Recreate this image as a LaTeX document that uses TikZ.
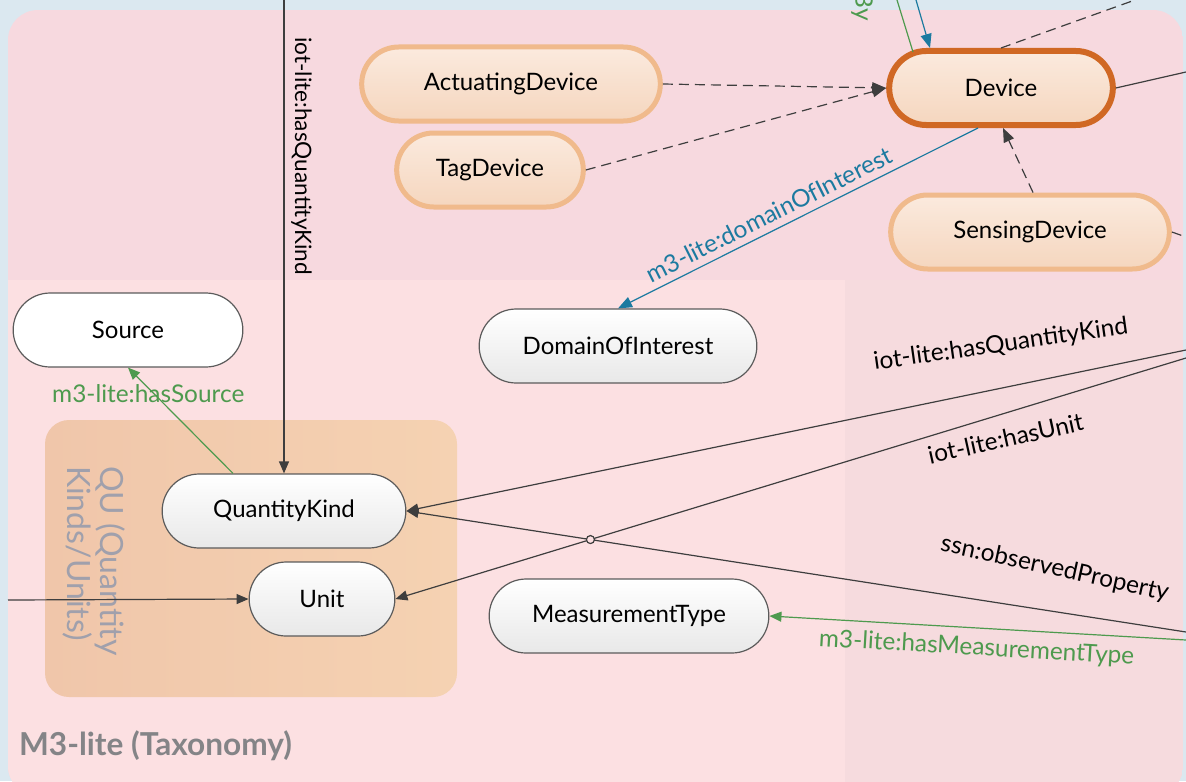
\documentclass[tikz,border=0pt]{standalone}
\usepackage{fontspec}
\setmainfont{Lato}
\usetikzlibrary{shapes.misc, arrows.meta, calc, intersections}
\definecolor{bgblue}{RGB}{219,232,240}
\definecolor{toppink}{RGB}{247,217,223}
\definecolor{lowpink}{RGB}{252,224,226}
\definecolor{rightpink}{RGB}{246,219,222}
\definecolor{quleft}{RGB}{240,198,170}
\definecolor{quright}{RGB}{245,210,178}
\definecolor{qugrey}{RGB}{160,160,172}
\definecolor{peachline}{RGB}{240,186,140}
\definecolor{peachtop}{RGB}{251,234,222}
\definecolor{peachbot}{RGB}{245,214,190}
\definecolor{devorange}{RGB}{208,104,36}
\definecolor{edgegrey}{RGB}{62,62,62}
\definecolor{m3green}{RGB}{78,154,78}
\definecolor{m3blue}{RGB}{28,122,160}
\definecolor{labelgrey}{RGB}{132,132,135}

\tikzset{
  concept/.style={rounded rectangle, draw=edgegrey!85, line width=0.6pt, top color=white, bottom color=black!9,
    minimum height=37pt, font=\fontsize{12}{14}\selectfont},
  device/.style={concept, draw=peachline, line width=2.5pt, top color=peachtop, bottom color=peachbot},
  rel/.style={draw=edgegrey, line width=0.6pt, -{Triangle[length=6pt,width=5pt]}},
  relgreen/.style={rel, draw=m3green, text=m3green},
  relblue/.style={rel, draw=m3blue, text=m3blue, -{Triangle[length=7pt,width=5.5pt]}},
  isa/.style={rel, dash pattern=on 5pt off 3pt, -{Triangle[length=7pt,width=5.5pt]}},
  dashline/.style={draw=edgegrey, line width=0.6pt, dash pattern=on 5pt off 3pt},
  plainline/.style={draw=edgegrey, line width=0.6pt},
  edgelabel/.style={font=\fontsize{12.2}{14}\selectfont}
}

\begin{document}
\begin{tikzpicture}[x=0.5pt, y=-0.5pt]
  \useasboundingbox (0,0) rectangle (1186,781);
  \clip (0,0) rectangle (1186,781);
  \fill[bgblue] (0,0) rectangle (1186,781);
  \begin{scope}
    \clip[rounded corners=15pt] (8,10) rectangle (1183,796);
    \fill[toppink] (8,10) rectangle (1183,796);
    \fill[lowpink] (8,280) rectangle (845,796);
    \fill[rightpink] (845,280) rectangle (1183,796);
  \end{scope}

  \shade[left color=quleft, right color=quright, rounded corners=12pt] (45,420) rectangle (457,697);
  \node[rotate=-90, anchor=west, align=left, text=qugrey, font=\fontsize{16}{16.5}\selectfont] (quLbl) at (94,459) {QU (Quantity\\Kinds/Units)};
  \node[anchor=west, text=labelgrey, font=\bfseries\fontsize{15.8}{17}\selectfont] (m3Lbl) at (12,746) {M3-lite (Taxonomy)};

  \node[device, minimum width=156pt] (act) at (511,84) {ActuatingDevice};
  \node[device, minimum width=100pt] (tag) at (490,170) {TagDevice};
  \node[device, draw=devorange, line width=3pt, minimum width=118.5pt] (dev) at (1001,88) {Device};
  \node[device, minimum width=146pt] (sens) at (1030,232) {SensingDevice};
  \node[concept, top color=white, bottom color=white, minimum width=121.5pt] (src) at (128,330) {Source};
  \node[concept, minimum width=145.5pt] (doi) at (618,346) {DomainOfInterest};
  \node[concept, minimum width=128.5pt] (qk) at (284,511) {QuantityKind};
  \node[concept, minimum width=79.5pt] (unit) at (322,599) {Unit};
  \node[concept, minimum width=146.5pt] (mt) at (629,616) {MeasurementType};

  \coordinate (qkIn) at (284,0);
  \coordinate (unitL) at (8,600);
  \coordinate (qkR) at (1186,350);
  \coordinate (unitR) at (1186,358);
  \coordinate (obsR) at (1186,632);
  \coordinate (mtR) at (1186,640);
  \coordinate (devUp) at (1135,0);
  \coordinate (devR) at (1186,72);
  \coordinate (sensR) at (1186,237);
  \coordinate (blueIn) at (916,0);
  \coordinate (greenOut) at (897,0);

  \draw[rel] (qkIn) -- node[edgelabel, font=\fontsize{11.3}{13}\selectfont, pos=0.33, sloped, allow upside down, above] {iot-lite:hasQuantityKind} (qk.north);
  \draw[relgreen] ($(qk.north)+(-51,0)$) -- node[edgelabel, pos=0.75, xshift=-3pt] {m3-lite:hasSource} (src.south);
  \draw[rel] (unitL) -- (unit.west);
  \draw[rel, name path=qkln] (qkR) -- node[edgelabel, pos=0.23, sloped, rotate=-3.6, above=12pt] {iot-lite:hasQuantityKind} (qk.east);
  \draw[rel, name path=unitln] (unitR) -- node[edgelabel, pos=0.235, sloped, rotate=-4.5, below=4pt] {iot-lite:hasUnit} (unit.east);
  \draw[rel, name path=obsln] (obsR) -- node[edgelabel, pos=0.18, sloped, rotate=-3.6, above=12pt] {ssn:observedProperty} (qk.east);
  \draw[relgreen] (mtR) -- node[edgelabel, pos=0.5, sloped, below=1pt] {m3-lite:hasMeasurementType} (mt.east);
  \path[name intersections={of=unitln and obsln, by=hop}];
  \draw[plainline, fill=lowpink] (hop) circle (2pt);

  \draw[isa] (act.east) -- (dev.west);
  \draw[isa] (tag.east) -- (dev.west);
  \draw[isa] ($(sens.north)+(3,0)$) -- ($(dev.south)+(2,0)$);
  \draw[dashline] (dev.north) -- (devUp);
  \draw[plainline] (dev.east) -- (devR);
  \draw[dashline] (sens.east) -- (sensR);
  \draw[relblue] (blueIn) -- ($(dev.north)+(-71,0)$);
  \draw[m3green, line width=0.6pt] ($(dev.center)+(-88,-36)$) -- (greenOut);
  \node[edgelabel, rotate=-90, anchor=east, text=m3green] (byLbl) at (862,28) {By};
  \draw[relblue] ($(dev.south)+(-23,0)$) -- node[edgelabel, pos=0.56, sloped, above=0pt] {m3-lite:domainOfInterest} (doi.north);
\end{tikzpicture}
\end{document}
